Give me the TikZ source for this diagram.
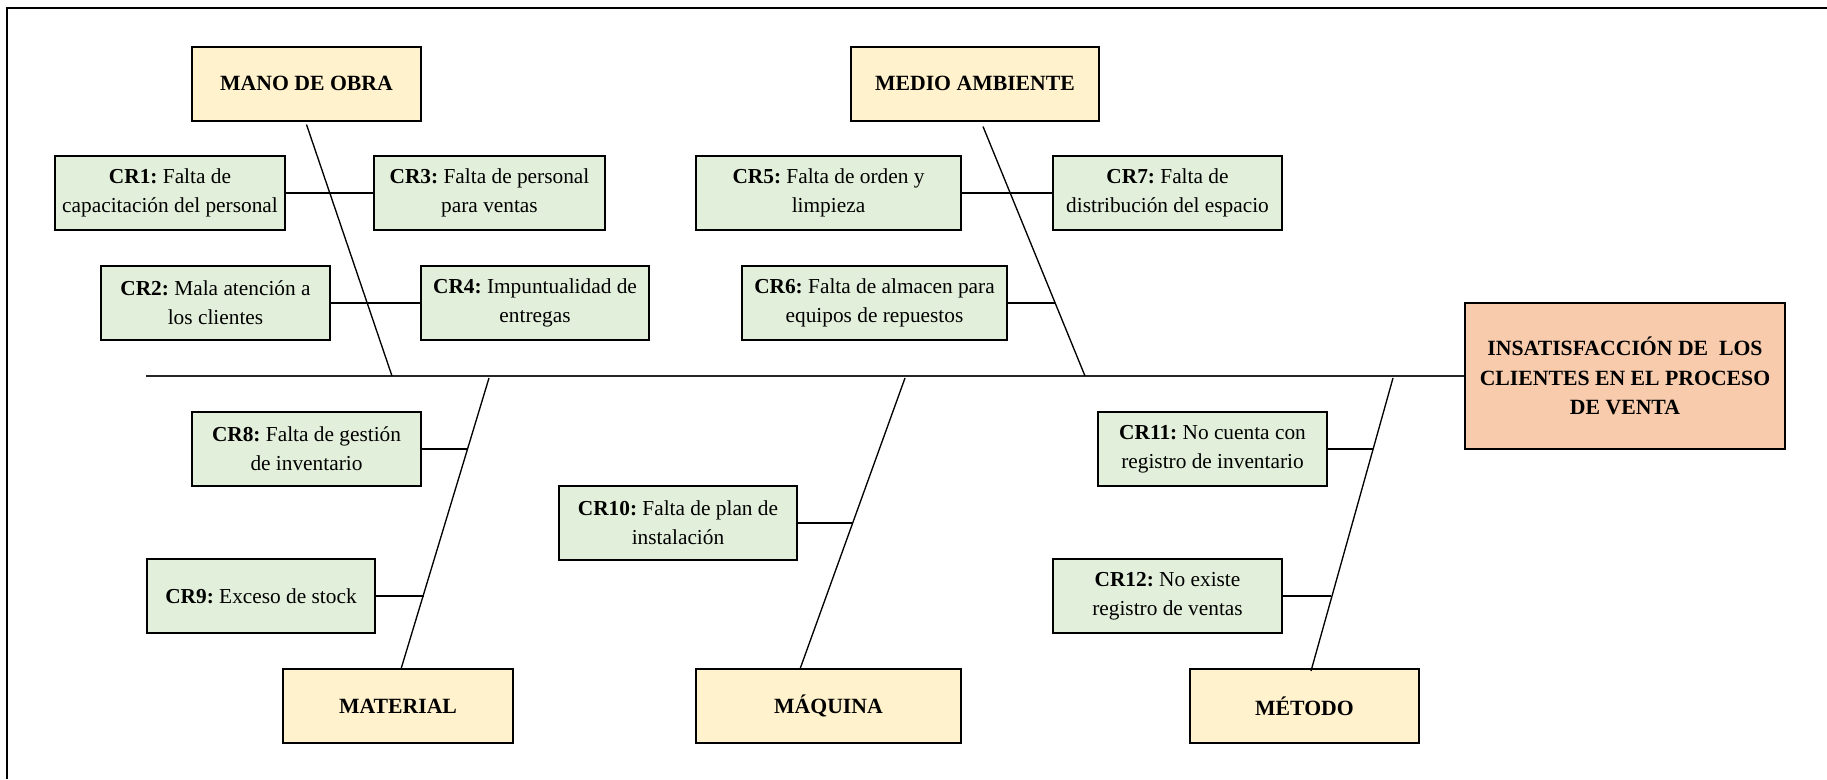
\documentclass[tikz,border=0pt]{standalone}
\usepackage{fontspec}
\setmainfont{Liberation Serif}
\usepackage{tikz}
\usetikzlibrary{calc}

\definecolor{amarillo}{HTML}{FFF2CC}
\definecolor{verde}{HTML}{E2EFDA}
\definecolor{salmon}{HTML}{F8CBAD}

\frenchspacing

\begin{document}
\begin{tikzpicture}[x=0.75pt,y=0.75pt,yscale=-1,xscale=1,
  causa/.style={draw,line width=1.5pt,fill=amarillo,minimum height=55.5pt,inner sep=0.75pt,font=\fontsize{16.3}{20}\selectfont\bfseries},
  crbox/.style={draw,line width=1.5pt,fill=verde,minimum height=55.5pt,inner sep=0.75pt,align=center,font=\fontsize{16}{22}\selectfont},
  ancho/.style={minimum width=#1*0.75pt},
  espina/.style={line width=1pt},
  rama/.style={line width=1.4pt}]

\useasboundingbox (0,0) rectangle (1827,779);

\draw[line width=1.6pt] (1827,8) -- (7,8) -- (7,779);


\node[causa,ancho=229] (mano) at (306.5,83.5) {MANO DE OBRA};

\node[causa,ancho=248] (medio) at (975,83.5) {MEDIO AMBIENTE};

\node[causa,ancho=230] (material) at (398,706) {MATERIAL};

\node[causa,ancho=265] (maquina) at (828.5,706) {MÁQUINA};

\node[causa,ancho=229] (metodo) at (1304.5,706) {MÉTODO};

\node[draw,line width=1.5pt,fill=salmon,minimum width=240pt,minimum height=109.5pt,align=center,font=\fontsize{16.3}{22}\selectfont\bfseries] (efecto) at (1625,376) {INSATISFACCIÓN DE~~LOS\\CLIENTES EN EL PROCESO\\DE VENTA};


\node[crbox,ancho=230] (cr1) at (170,193) {\textbf{CR1:} Falta de\\capacitación del personal};

\node[crbox,ancho=231] (cr3) at (489.5,193) {\textbf{CR3:} Falta de personal\\para ventas};

\node[crbox,ancho=229] (cr2) at (215.5,303) {\textbf{CR2:} Mala atención a\\los clientes};

\node[crbox,ancho=228] (cr4) at (535,303) {\textbf{CR4:} Impuntualidad de\\entregas};

\node[crbox,ancho=265] (cr5) at (828.5,193) {\textbf{CR5:} Falta de orden y\\limpieza};

\node[crbox,ancho=229] (cr7) at (1167.5,193) {\textbf{CR7:} Falta de\\distribución del espacio};

\node[crbox,ancho=265] (cr6) at (874.5,303) {\textbf{CR6:} Falta de almacen para\\equipos de repuestos};

\node[crbox,ancho=229] (cr8) at (306.5,449) {\textbf{CR8:} Falta de gestión\\de inventario};

\node[crbox,ancho=228] (cr9) at (261,596) {\textbf{CR9:} Exceso de stock};

\node[crbox,ancho=238] (cr10) at (678,523) {\textbf{CR10:} Falta de plan de\\instalación};

\node[crbox,ancho=229] (cr11) at (1212.5,449) {\textbf{CR11:} No cuenta con\\registro de inventario};

\node[crbox,ancho=229] (cr12) at (1167.5,596) {\textbf{CR12:} No existe\\registro de ventas};


\coordinate (cola) at (146,376);
\coordinate (s1) at (392,376);
\coordinate (s2) at (1085,376);
\coordinate (s3) at (489,378);
\coordinate (s4) at (905,378);
\coordinate (s5) at (1393,378);

\coordinate (k6) at (1055,303);
\coordinate (k8) at (468,449);
\coordinate (k9) at (423.5,596);
\coordinate (k10) at (853,523);
\coordinate (k11) at (1373,449);
\coordinate (k12) at (1331,596);


\draw[rama,black!85] (cola) -- (efecto.west);

\draw[espina] ($(mano.south)+(0,3)$) -- (s1);
\draw[espina] ($(medio.south)+(8,5)$) -- (s2);
\draw[espina] ($(material.north)+(3,1)$) -- (s3);
\draw[espina] ($(maquina.north)+(-28.5,1)$) -- (s4);
\draw[espina] ($(metodo.north)+(6.5,3)$) -- (s5);


\draw[rama] (cr1.east) -- (cr3.west);
\draw[rama] (cr2.east) -- (cr4.west);
\draw[rama] (cr5.east) -- (cr7.west);
\draw[rama] (cr6.east) -- (cr6.east -| k6);
\draw[rama] (cr8.east) -- (cr8.east -| k8);
\draw[rama] (cr9.east) -- (cr9.east -| k9);
\draw[rama] (cr10.east) -- (cr10.east -| k10);
\draw[rama] (cr11.east) -- (cr11.east -| k11);
\draw[rama] (cr12.east) -- (cr12.east -| k12);

\end{tikzpicture}
\end{document}
